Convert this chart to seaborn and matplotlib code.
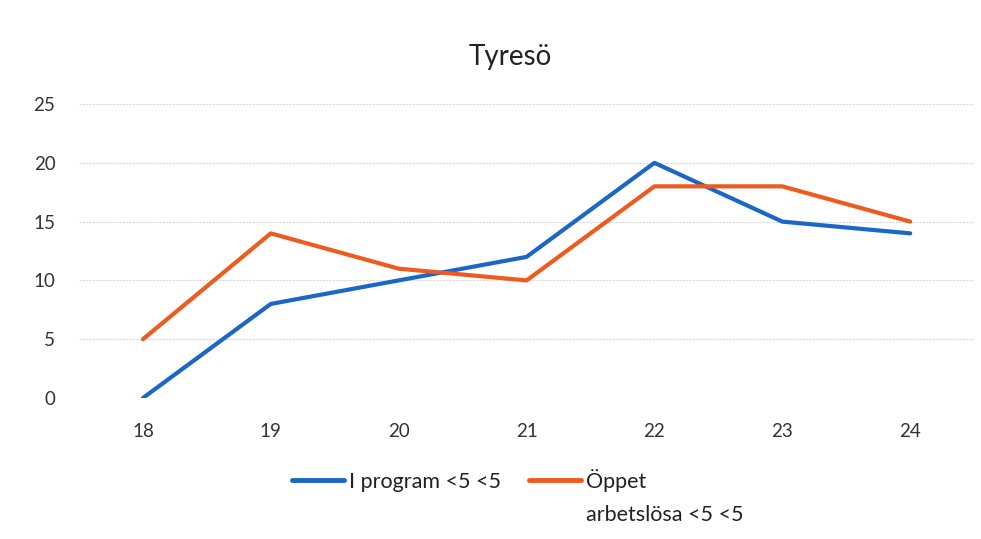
import matplotlib
matplotlib.use("Agg")
import matplotlib.pyplot as plt
import seaborn as sns
import pandas as pd

years = ["18", "19", "20", "21", "22", "23", "24"]
i_program = [0, 8, 10, 12, 20, 15, 14]
oppet = [5, 14, 11, 10, 18, 18, 15]
series_names = ["I program <5 <5", "Öppet"]
series2_line2 = "arbetslösa <5 <5"
title = "Tyresö"
yticks = [0, 5, 10, 15, 20, 25]

df = pd.DataFrame({
    "År": years * 2,
    "Värde": i_program + oppet,
    "Serie": [series_names[0]] * len(years) + [series_names[1]] * len(years),
})

sns.set_theme(style="white")
plt.rcParams["font.family"] = ["Lato", "DejaVu Sans"]

W, H = 981, 539
fig = plt.figure(figsize=(W / 100, H / 100), dpi=100)
ax = fig.add_axes([0.0805, 0.2616, 0.9125, 0.5454])

palette = {series_names[0]: "#1b66c6", series_names[1]: "#ee5b1f"}
sns.lineplot(data=df, x="År", y="Värde", hue="Serie", palette=palette,
             linewidth=3.0, ax=ax, sort=False, legend=True)
for ln in ax.get_lines():
    ln.set_solid_capstyle("round")

ax.set_xlim(-0.5, len(years) - 0.5)
ax.set_ylim(0, 25)
ax.set_yticks(yticks)
ax.set_xlabel("")
ax.set_ylabel("")
ax.grid(axis="y", color="#d9d9d9", linewidth=0.8, linestyle=(0, (2, 1)))
ax.grid(axis="x", visible=False)
for s in ax.spines.values():
    s.set_visible(False)
ax.tick_params(axis="both", length=0, labelsize=13.5, colors="#333333")
ax.tick_params(axis="x", pad=18)
ax.tick_params(axis="y", pad=17)

fig.text(0.52, 0.895, title, ha="center", va="center", fontsize=20, color="#222222")

handles, labels = ax.get_legend_handles_labels()
ax.get_legend().remove()
leg = fig.legend(handles, labels, loc="center left",
                 bbox_to_anchor=(292 / W, 1 - 480 / H),
                 borderaxespad=0, borderpad=0,
                 ncol=2, frameon=False, fontsize=15.5, handlelength=2.4,
                 handletextpad=0.25, columnspacing=1.3, labelcolor="#222222")
for h in leg.legend_handles:
    h.set_linewidth(3.5)
    h.set_solid_capstyle("round")

fig.canvas.draw()
bb = leg.get_texts()[1].get_window_extent()
fig.text(bb.x0 / W, 1 - 515 / H, series2_line2, ha="left", va="center",
         fontsize=15.5, color="#222222")

fig.savefig("out.png", dpi=100, facecolor="white")
